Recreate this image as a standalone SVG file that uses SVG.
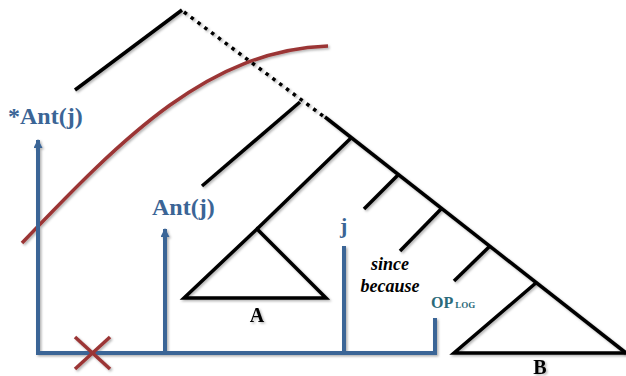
<svg xmlns="http://www.w3.org/2000/svg" width="626" height="376" viewBox="0 0 626 376">
  <defs>
    <filter id="sh" x="-10%" y="-10%" width="120%" height="120%">
      <feDropShadow dx="1.5" dy="1.5" stdDeviation="1" flood-color="#000" flood-opacity="0.3"/>
    </filter>
    <marker id="arr" viewBox="0 0 10 10" refX="9" refY="5" markerWidth="10" markerHeight="9" markerUnits="userSpaceOnUse" orient="auto">
      <path d="M0,0 L10,5 L0,10 Z" fill="#3b6596"/>
    </marker>
  </defs>
  <style>
    .tree { stroke: #000; stroke-width: 3.5; fill: none; stroke-linecap: butt; }
    .dot { stroke: #000; stroke-width: 3.5; fill: none; stroke-dasharray: 3.5 5; }
    .blue { stroke: #3b6596; stroke-width: 4; fill: none; }
    .red { stroke: #9b3535; stroke-width: 3.5; fill: none; }
    text { font-family: 'Liberation Serif', 'DejaVu Serif', serif; font-weight: bold; }
    .lblb { fill: #3b6596; }
    .lblk { fill: #000; }
    .op { fill: #2b6a7a; }
  </style>
  <g id="connectors" filter="url(#sh)">
    <line class="tree" x1="182" y1="10" x2="75" y2="90"/>
    <line class="dot" x1="184" y1="12" x2="323" y2="116"/>
    <line class="tree" x1="325" y1="117" x2="626" y2="353"/>
    <line class="tree" x1="300" y1="102" x2="202" y2="186"/>
    <line class="tree" x1="351" y1="138" x2="257" y2="229"/>
    <line class="tree" x1="398" y1="175" x2="364" y2="209"/>
    <line class="tree" x1="442" y1="208" x2="400" y2="251"/>
    <line class="tree" x1="490" y1="246" x2="454" y2="281"/>
    <path class="red" d="M22,243 C125,135 210,50 328,46"/>
    <polyline class="blue" points="38,150 38,353 435,353 435,318"/>
    <line class="blue" x1="165" y1="353" x2="165" y2="229" marker-end="url(#arr)"/>
    <line class="blue" x1="344" y1="353" x2="344" y2="246"/>
    <line class="blue" x1="38" y1="200" x2="38" y2="140" marker-end="url(#arr)"/>
    <line class="red" x1="75" y1="337" x2="110" y2="369"/>
    <line class="red" x1="110" y1="337" x2="75" y2="369"/>
  </g>
  <g id="triA" filter="url(#sh)">
    <polygon class="tree" points="257,229 184,298 326,298"/>
    <text class="lblk" x="257" y="322" font-size="20" text-anchor="middle" font-family="Liberation Serif, serif">A</text>
  </g>
  <g id="triB" filter="url(#sh)">
    <polyline class="tree" points="537,282 454,353 626,353"/>
    <text class="lblk" x="540" y="374" font-size="20" text-anchor="middle" font-family="Liberation Serif, serif">B</text>
  </g>
  <g id="antj-star">
    <text class="lblb" x="8" y="124" font-size="24" font-family="Liberation Serif, serif">*Ant(j)</text>
  </g>
  <g id="antj">
    <text class="lblb" x="152" y="215" font-size="24" font-family="Liberation Serif, serif">Ant(j)</text>
  </g>
  <g id="j">
    <text class="lblb" x="340" y="233" font-size="22" font-family="Liberation Serif, serif">j</text>
  </g>
  <g id="since">
    <text class="lblk" x="390" y="270" font-size="18" font-style="italic" text-anchor="middle" font-family="Liberation Serif, serif">since</text>
    <text class="lblk" x="390" y="292" font-size="18" font-style="italic" text-anchor="middle" font-family="Liberation Serif, serif">because</text>
  </g>
  <g id="oplog">
    <text class="op" x="431" y="308" font-size="16" font-family="Liberation Serif, serif">OP<tspan font-size="9" dx="2">LOG</tspan></text>
  </g>
</svg>
